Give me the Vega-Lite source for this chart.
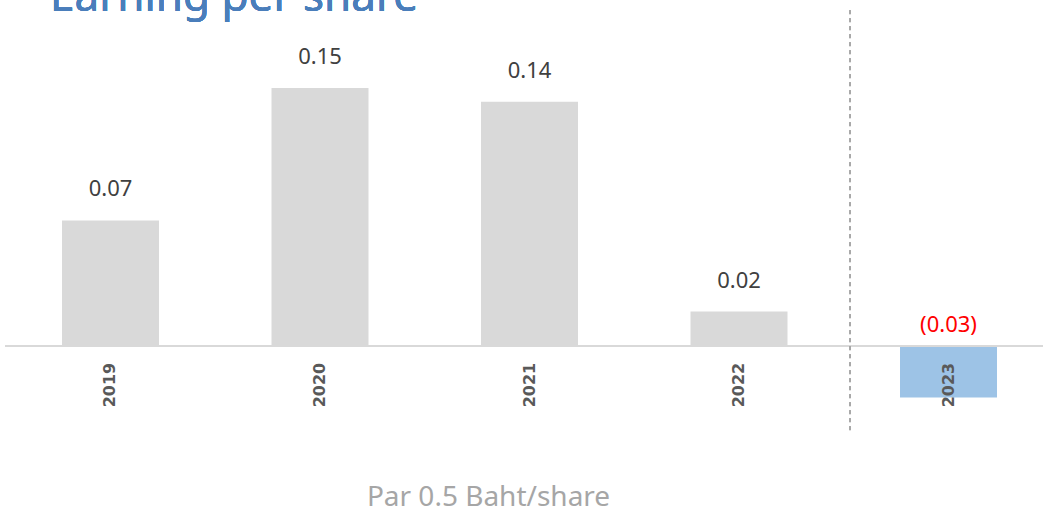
{
  "$schema": "https://vega.github.io/schema/vega-lite/v6.json",
  "width": 1038,
  "height": 440,
  "autosize": {"type": "none"},
  "padding": {"left": 5, "top": 0, "right": 0, "bottom": 73},
  "background": "white",
  "config": {"view": {"stroke": null}},
  "data": {
    "values": [
      {"year": "2019", "eps": 0.073, "label": "0.07"},
      {"year": "2020", "eps": 0.15, "label": "0.15"},
      {"year": "2021", "eps": 0.142, "label": "0.14"},
      {"year": "2022", "eps": 0.02, "label": "0.02"},
      {"year": "2023", "eps": -0.03, "label": "(0.03)"}
    ]
  },
  "encoding": {
    "x": {
      "field": "year",
      "type": "nominal",
      "scale": {"range": [57, 992], "paddingInner": 0.537, "paddingOuter": 0},
      "axis": {
        "labels": false,
        "ticks": false,
        "domain": false,
        "grid": false,
        "title": "Par 0.5 Baht/share",
        "titleX": 483,
        "titleY": 57,
        "titleAlign": "center",
        "titleBaseline": "middle",
        "titleFont": "Noto Sans",
        "titleFontSize": 28,
        "titleFontWeight": "normal",
        "titleColor": "#A6A6A6"
      }
    }
  },
  "layer": [
    {
      "mark": {"type": "bar"},
      "encoding": {
        "y": {
          "field": "eps",
          "type": "quantitative",
          "scale": {"domain": [-0.05465, 0.2012], "nice": false},
          "axis": null
        },
        "color": {
          "condition": {"test": "datum.eps < 0", "value": "#9DC3E6"},
          "value": "#D9D9D9"
        }
      }
    },
    {
      "mark": {"type": "rule", "color": "#D9D9D9", "strokeWidth": 2},
      "encoding": {"y": {"datum": 0, "type": "quantitative"}, "x": null}
    },
    {
      "mark": {"type": "rule", "color": "#A6A6A6", "strokeWidth": 1, "strokeDash": [4, 4], "xOffset": -50},
      "encoding": {
        "x": {"datum": "2023", "type": "nominal", "bandPosition": 0},
        "y": {"datum": 0.1953, "type": "quantitative"},
        "y2": {"datum": -0.05}
      }
    },
    {
      "transform": [{"filter": "datum.eps >= 0"}],
      "mark": {"type": "text", "baseline": "middle", "align": "center", "dy": -31, "font": "Noto Sans", "fontSize": 22, "color": "#404040"},
      "encoding": {
        "y": {"field": "eps", "type": "quantitative"},
        "text": {"field": "label"}
      }
    },
    {
      "transform": [{"filter": "datum.eps < 0"}],
      "mark": {"type": "text", "baseline": "middle", "align": "center", "dy": -21, "font": "Noto Sans", "fontSize": 22, "color": "#FF0000"},
      "encoding": {
        "y": {"datum": 0, "type": "quantitative"},
        "text": {"field": "label"}
      }
    },
    {
      "mark": {"type": "text", "baseline": "middle", "align": "center", "angle": 270, "font": "DejaVu Sans", "fontWeight": "bold", "fontSize": 16, "color": "#595959"},
      "encoding": {
        "y": {"datum": -0.0227, "type": "quantitative"},
        "text": {"field": "year"}
      }
    },
    {
      "mark": {"type": "text", "baseline": "alphabetic", "align": "left", "dx": -12, "font": "Noto Sans", "fontSize": 44, "color": "#4A7EBB"},
      "encoding": {
        "x": {"datum": "2019", "type": "nominal", "bandPosition": 0},
        "y": {"datum": 0.1948, "type": "quantitative"},
        "text": {"value": "Earning per share"}
      }
    }
  ]
}
